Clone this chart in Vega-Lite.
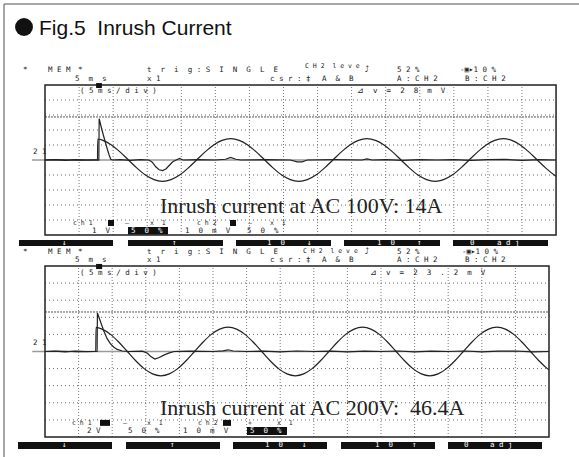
{
  "$schema": "https://vega.github.io/schema/vega-lite/v6.json",
  "width": 579,
  "height": 457,
  "autosize": {"type": "none"},
  "padding": 0,
  "background": "white",
  "config": {"view": {"stroke": null}},
  "resolve": {"scale": {"x": "independent", "y": "independent"}},
  "datasets": {
    "vgrid": [{"x":1,"y":-5,"y2":5},{"x":2,"y":-5,"y2":5},{"x":3,"y":-5,"y2":5},{"x":4,"y":-5,"y2":5},{"x":5,"y":-5,"y2":5},{"x":6,"y":-5,"y2":5},{"x":7,"y":-5,"y2":5},{"x":8,"y":-5,"y2":5},{"x":9,"y":-5,"y2":5},{"x":10,"y":-5,"y2":5},{"x":11,"y":-5,"y2":5},{"x":12,"y":-5,"y2":5},{"x":13,"y":-5,"y2":5},{"x":14,"y":-5,"y2":5}],
    "hgrid": [{"x":0,"x2":15,"y":-4},{"x":0,"x2":15,"y":-3},{"x":0,"x2":15,"y":-2},{"x":0,"x2":15,"y":-1},{"x":0,"x2":15,"y":1},{"x":0,"x2":15,"y":2},{"x":0,"x2":15,"y":3},{"x":0,"x2":15,"y":4}],
    "center": [{"x":-0.38,"x2":15,"y":0}],
    "frame": [{"x":0,"x2":15,"y":-5,"y2":5}],
    "border": [{"x":-1.203,"x2":-1.203,"y":-19.8,"y2":10.4},{"x":-1.203,"x2":15.6736,"y":10.4,"y2":10.4}],
    "cursor1": [{"x":0,"x2":15,"y":2.87}],
    "cursor2": [{"x":0,"x2":15,"y":2.31}],
    "v1": [{"x":0,"y":0},{"x":0.5,"y":0.01},{"x":1.0,"y":-0.01},{"x":1.54,"y":0},{"x":1.55,"y":1.4},{"x":1.7,"y":1.31},{"x":1.95,"y":1.0},{"x":2.2,"y":0.54},{"x":2.45,"y":0},{"x":2.7,"y":-0.54},{"x":2.95,"y":-1.0},{"x":3.2,"y":-1.31},{"x":3.45,"y":-1.42},{"x":3.7,"y":-1.31},{"x":3.95,"y":-1.0},{"x":4.2,"y":-0.54},{"x":4.45,"y":0},{"x":4.7,"y":0.54},{"x":4.95,"y":1.0},{"x":5.2,"y":1.31},{"x":5.45,"y":1.42},{"x":5.7,"y":1.31},{"x":5.95,"y":1.0},{"x":6.2,"y":0.54},{"x":6.45,"y":0},{"x":6.7,"y":-0.54},{"x":6.95,"y":-1.0},{"x":7.2,"y":-1.31},{"x":7.45,"y":-1.42},{"x":7.7,"y":-1.31},{"x":7.95,"y":-1.0},{"x":8.2,"y":-0.54},{"x":8.45,"y":0},{"x":8.7,"y":0.54},{"x":8.95,"y":1.0},{"x":9.2,"y":1.31},{"x":9.45,"y":1.42},{"x":9.7,"y":1.31},{"x":9.95,"y":1.0},{"x":10.2,"y":0.54},{"x":10.45,"y":0},{"x":10.7,"y":-0.54},{"x":10.95,"y":-1.0},{"x":11.2,"y":-1.31},{"x":11.45,"y":-1.42},{"x":11.7,"y":-1.31},{"x":11.95,"y":-1.0},{"x":12.2,"y":-0.54},{"x":12.45,"y":0},{"x":12.7,"y":0.54},{"x":12.95,"y":1.0},{"x":13.2,"y":1.31},{"x":13.45,"y":1.42},{"x":13.7,"y":1.31},{"x":13.95,"y":1.0},{"x":14.2,"y":0.54},{"x":14.45,"y":0},{"x":14.7,"y":-0.54},{"x":14.95,"y":-1.0},{"x":15.0,"y":-1.08}],
    "i1": [{"x":0,"y":0},{"x":0.3,"y":0.02},{"x":0.6,"y":-0.02},{"x":0.9,"y":0.02},{"x":1.2,"y":0},{"x":1.5,"y":0.01},{"x":1.58,"y":0},{"x":1.59,"y":2.75},{"x":1.65,"y":2.2},{"x":1.72,"y":1.6},{"x":1.8,"y":0.95},{"x":1.88,"y":0.35},{"x":1.93,"y":0.05},{"x":1.98,"y":0},{"x":2.2,"y":0.03},{"x":2.5,"y":-0.02},{"x":2.8,"y":0.02},{"x":3.05,"y":0},{"x":3.15,"y":-0.15},{"x":3.25,"y":-0.45},{"x":3.35,"y":-0.65},{"x":3.45,"y":-0.7},{"x":3.55,"y":-0.6},{"x":3.65,"y":-0.35},{"x":3.75,"y":-0.12},{"x":3.85,"y":0},{"x":3.95,"y":0.1},{"x":4.05,"y":0},{"x":4.5,"y":0.02},{"x":5.0,"y":0},{"x":5.3,"y":0.05},{"x":5.45,"y":0.17},{"x":5.6,"y":0.05},{"x":5.75,"y":0},{"x":6.5,"y":0.02},{"x":7.2,"y":0},{"x":7.4,"y":-0.12},{"x":7.55,"y":-0.12},{"x":7.7,"y":0},{"x":8.5,"y":0.02},{"x":9.3,"y":0},{"x":9.45,"y":0.08},{"x":9.6,"y":0},{"x":10,"y":0.02},{"x":10.5,"y":-0.02},{"x":11,"y":0.02},{"x":11.5,"y":0},{"x":12,"y":0.03},{"x":12.5,"y":-0.02},{"x":13,"y":0.02},{"x":13.5,"y":0.04},{"x":14,"y":-0.02},{"x":14.5,"y":0.02},{"x":15,"y":0}],
    "v2": [{"x":0,"y":0},{"x":0.5,"y":0.01},{"x":1.0,"y":-0.01},{"x":1.51,"y":0},{"x":1.52,"y":1.41},{"x":1.7,"y":1.31},{"x":1.95,"y":1.0},{"x":2.2,"y":0.54},{"x":2.45,"y":0},{"x":2.7,"y":-0.54},{"x":2.95,"y":-1.0},{"x":3.2,"y":-1.31},{"x":3.45,"y":-1.42},{"x":3.7,"y":-1.31},{"x":3.95,"y":-1.0},{"x":4.2,"y":-0.54},{"x":4.45,"y":0},{"x":4.7,"y":0.54},{"x":4.95,"y":1.0},{"x":5.2,"y":1.31},{"x":5.45,"y":1.42},{"x":5.7,"y":1.31},{"x":5.95,"y":1.0},{"x":6.2,"y":0.54},{"x":6.45,"y":0},{"x":6.7,"y":-0.54},{"x":6.95,"y":-1.0},{"x":7.2,"y":-1.31},{"x":7.45,"y":-1.42},{"x":7.7,"y":-1.31},{"x":7.95,"y":-1.0},{"x":8.2,"y":-0.54},{"x":8.45,"y":0},{"x":8.7,"y":0.54},{"x":8.95,"y":1.0},{"x":9.2,"y":1.31},{"x":9.45,"y":1.42},{"x":9.7,"y":1.31},{"x":9.95,"y":1.0},{"x":10.2,"y":0.54},{"x":10.45,"y":0},{"x":10.7,"y":-0.54},{"x":10.95,"y":-1.0},{"x":11.2,"y":-1.31},{"x":11.45,"y":-1.42},{"x":11.7,"y":-1.31},{"x":11.95,"y":-1.0},{"x":12.2,"y":-0.54},{"x":12.45,"y":0},{"x":12.7,"y":0.54},{"x":12.95,"y":1.0},{"x":13.2,"y":1.31},{"x":13.45,"y":1.42},{"x":13.7,"y":1.31},{"x":13.95,"y":1.0},{"x":14.2,"y":0.54},{"x":14.45,"y":0},{"x":14.7,"y":-0.54},{"x":14.95,"y":-1.0},{"x":15.0,"y":-1.08}],
    "i2": [{"x":0,"y":0},{"x":0.3,"y":0.02},{"x":0.6,"y":-0.02},{"x":0.9,"y":0.02},{"x":1.2,"y":0},{"x":1.55,"y":0},{"x":1.56,"y":2.25},{"x":1.65,"y":1.75},{"x":1.75,"y":1.2},{"x":1.85,"y":0.75},{"x":1.95,"y":0.45},{"x":2.05,"y":0.25},{"x":2.15,"y":0.12},{"x":2.3,"y":0.03},{"x":2.5,"y":0},{"x":2.9,"y":0.02},{"x":3.05,"y":-0.1},{"x":3.15,"y":-0.3},{"x":3.27,"y":-0.44},{"x":3.4,"y":-0.35},{"x":3.55,"y":-0.2},{"x":3.7,"y":-0.08},{"x":3.85,"y":0},{"x":4.3,"y":0.02},{"x":5.0,"y":0},{"x":5.3,"y":0.04},{"x":5.45,"y":0.1},{"x":5.6,"y":0.03},{"x":6.0,"y":0},{"x":6.5,"y":0.02},{"x":7.0,"y":-0.02},{"x":7.5,"y":0.03},{"x":8.0,"y":0},{"x":8.5,"y":0.02},{"x":9.0,"y":-0.02},{"x":9.5,"y":0.02},{"x":10,"y":0},{"x":10.5,"y":0.03},{"x":11,"y":-0.02},{"x":11.5,"y":0.02},{"x":12,"y":0},{"x":12.5,"y":0.03},{"x":13,"y":-0.02},{"x":13.5,"y":0.02},{"x":14,"y":0.03},{"x":14.5,"y":-0.02},{"x":15,"y":0}],
    "box1": [{"x":-0.763,"x2":1.996,"y":-5.333,"y2":-5.733},{"x":2.436,"x2":5.224,"y":-5.333,"y2":-5.733},{"x":5.606,"x2":8.394,"y":-5.333,"y2":-5.733},{"x":8.776,"x2":11.594,"y":-5.333,"y2":-5.733},{"x":11.975,"x2":14.764,"y":-5.333,"y2":-5.733},{"x":1.849,"x2":2.025,"y":-4.0,"y2":-4.4},{"x":5.43,"x2":5.606,"y":-4.0,"y2":-4.4},{"x":2.436,"x2":3.61,"y":-4.467,"y2":-4.967},{"x":1.5,"x2":1.67,"y":4.8,"y2":5.13}],
    "box2": [{"x":-0.804,"x2":1.994,"y":-5.292,"y2":-5.702},{"x":2.411,"x2":5.208,"y":-5.292,"y2":-5.702},{"x":5.595,"x2":8.393,"y":-5.292,"y2":-5.702},{"x":8.81,"x2":11.607,"y":-5.292,"y2":-5.702},{"x":11.994,"x2":14.792,"y":-5.292,"y2":-5.702},{"x":1.637,"x2":1.935,"y":-4.0,"y2":-4.35},{"x":5.298,"x2":5.536,"y":-4.0,"y2":-4.35},{"x":6.012,"x2":7.202,"y":-4.415,"y2":-4.883},{"x":1.52,"x2":1.7,"y":4.82,"y2":5.12}],
    "mono1": [{"x":-0.646,"y":5.967,"t":"*"},{"x":0.088,"y":5.967,"t":"M E M"},{"x":0.969,"y":5.967,"t":"*"},{"x":2.994,"y":5.967,"t":"t \u00a0r \u00a0i \u00a0g : S \u00a0I \u00a0N \u00a0G \u00a0L \u00a0E"},{"x":9.392,"y":5.967,"t":"⤴"},{"x":10.332,"y":5.967,"t":"5 2 %"},{"x":12.181,"y":5.967,"t":"-▣▸1 0 %"},{"x":0.881,"y":5.433,"t":"5 \u00a0m \u00a0s"},{"x":2.994,"y":5.433,"t":"x 1"},{"x":6.604,"y":5.433,"t":"c s r : ‡"},{"x":8.13,"y":5.433,"t":"A \u00a0& \u00a0B"},{"x":10.332,"y":5.433,"t":"A : C H 2"},{"x":12.328,"y":5.433,"t":"B : C H 2"},{"x":1.027,"y":4.6,"t":"( 5 m s / d i v )"},{"x":9.158,"y":4.6,"t":"⊿ \u00a0v \u00a0= \u00a02 \u00a08 \u00a0m \u00a0V"},{"x":-0.352,"y":0.533,"t":"2 1"},{"x":1.38,"y":-4.733,"t":"1 \u00a0V"},{"x":4.109,"y":-4.733,"t":"1 \u00a00 \u00a0m \u00a0V"},{"x":5.929,"y":-4.733,"t":"5 \u00a00 \u00a0%"}],
    "mono2": [{"x":-0.655,"y":5.79,"t":"*"},{"x":0.089,"y":5.79,"t":"M E M"},{"x":0.982,"y":5.79,"t":"*"},{"x":3.036,"y":5.79,"t":"t \u00a0r \u00a0i \u00a0g : S \u00a0I \u00a0N \u00a0G \u00a0L \u00a0E"},{"x":9.524,"y":5.79,"t":"⤴"},{"x":10.476,"y":5.79,"t":"5 2 %"},{"x":12.411,"y":5.79,"t":"-▣▸1 0 %"},{"x":0.893,"y":5.322,"t":"5 \u00a0m \u00a0s"},{"x":3.036,"y":5.322,"t":"x 1"},{"x":6.696,"y":5.322,"t":"c s r : ‡"},{"x":8.244,"y":5.322,"t":"A \u00a0& \u00a0B"},{"x":10.476,"y":5.322,"t":"A : C H 2"},{"x":12.5,"y":5.322,"t":"B : C H 2"},{"x":1.042,"y":4.591,"t":"( 5 m s / d i v )"},{"x":9.673,"y":4.591,"t":"⊿ \u00a0v \u00a0= \u00a02 \u00a03 \u00a0. \u00a02 \u00a0m \u00a0V"},{"x":-0.357,"y":0.497,"t":"2 1"},{"x":1.25,"y":-4.678,"t":"2 V"},{"x":2.47,"y":-4.678,"t":"5 \u00a00 \u00a0%"},{"x":4.107,"y":-4.678,"t":"1 \u00a00 \u00a0m \u00a0V"}],
    "small1": [{"x":7.631,"y":6.25,"t":"C H 2 \u00a0l e v e"},{"x":0.822,"y":-4.2,"t":"c h 1"},{"x":4.461,"y":-4.2,"t":"c h 2"},{"x":2.348,"y":-4.2,"t":"—"},{"x":3.082,"y":-4.2,"t":"x \u00a01"},{"x":5.958,"y":-4.2,"t":"—"},{"x":6.604,"y":-4.2,"t":"x \u00a01"}],
    "small2": [{"x":7.679,"y":5.877,"t":"C H 2 \u00a0l e v e"},{"x":0.804,"y":-4.181,"t":"c h 1"},{"x":4.554,"y":-4.181,"t":"c h 2"},{"x":2.321,"y":-4.181,"t":"—"},{"x":3.036,"y":-4.181,"t":"x \u00a01"},{"x":6.042,"y":-4.181,"t":"+"},{"x":6.905,"y":-4.181,"t":"x \u00a01"}],
    "white1": [{"x":2.524,"y":-4.717,"t":"5 \u00a00 \u00a0%"},{"x":0.499,"y":-5.533,"t":"↓"},{"x":3.728,"y":-5.533,"t":"↑"},{"x":6.516,"y":-5.533,"t":"1 \u00a00"},{"x":7.69,"y":-5.533,"t":"↓"},{"x":9.745,"y":-5.533,"t":"1 \u00a00"},{"x":10.919,"y":-5.533,"t":"↑"},{"x":12.474,"y":-5.533,"t":"0"},{"x":13.267,"y":-5.533,"t":"a d j"}],
    "white2": [{"x":6.101,"y":-4.649,"t":"5 \u00a00 \u00a0%"},{"x":0.505,"y":-5.497,"t":"↓"},{"x":3.72,"y":-5.497,"t":"↑"},{"x":6.548,"y":-5.497,"t":"1 \u00a00"},{"x":7.648,"y":-5.497,"t":"↓"},{"x":9.821,"y":-5.497,"t":"1 \u00a00"},{"x":10.922,"y":-5.497,"t":"↑"},{"x":12.47,"y":-5.497,"t":"0"},{"x":13.244,"y":-5.497,"t":"a d j"}],
    "big1": [{"x":3.375,"y":-3.533,"t":"Inrush current at AC 100V: 14A"}],
    "big2": [{"x":3.423,"y":-3.69,"t":"Inrush current at AC 200V: \u00a046.4A"}],
    "title": [{"x":-0.176,"y":8.333,"t":"Fig.5 \u00a0Inrush Current"}],
    "dot": [{"x":-0.616,"y":8.867}]
  },
  "layer": [
    {
      "encoding": {
        "x": {"field": "x", "type": "quantitative", "axis": null, "scale": {"domain": [-1.3208, 15.6736], "nice": false, "zero": false}},
        "y": {"field": "y", "type": "quantitative", "axis": null, "scale": {"domain": [-19.8, 10.6667], "nice": false, "zero": false}}
      },
      "layer": [
        {"data": {"name": "border"}, "mark": {"type": "rule", "color": "#8a8a8a", "strokeWidth": 1.5}, "encoding": {"x2": {"field": "x2"}, "y2": {"field": "y2"}}},
        {"data": {"name": "hgrid"}, "mark": {"type": "rule", "color": "#666", "strokeWidth": 1, "strokeDash": [1, 3]}, "encoding": {"x2": {"field": "x2"}}},
        {"data": {"name": "vgrid"}, "mark": {"type": "rule", "color": "#777", "strokeWidth": 1, "strokeDash": [1, 2]}, "encoding": {"y2": {"field": "y2"}}},
        {"data": {"name": "center"}, "mark": {"type": "rule", "color": "#9a9a9a", "strokeWidth": 1.5}, "encoding": {"x2": {"field": "x2"}}},
        {"data": {"name": "cursor1"}, "mark": {"type": "rule", "color": "#555", "strokeWidth": 1, "strokeDash": [2, 1]}, "encoding": {"x2": {"field": "x2"}}},
        {"data": {"name": "frame"}, "mark": {"type": "rect", "filled": false, "stroke": "#222", "strokeWidth": 1.5}, "encoding": {"x2": {"field": "x2"}, "y2": {"field": "y2"}}},
        {"data": {"name": "box1"}, "mark": {"type": "rect", "color": "#111"}, "encoding": {"x2": {"field": "x2"}, "y2": {"field": "y2"}}},
        {"data": {"name": "v1"}, "mark": {"type": "line", "color": "#222", "strokeWidth": 1.2, "interpolate": "monotone"}, "encoding": {}},
        {"data": {"name": "i1"}, "mark": {"type": "line", "color": "#222", "strokeWidth": 1.2}, "encoding": {}},
        {"data": {"name": "mono1"}, "mark": {"type": "text", "font": "DejaVu Sans Mono", "fontSize": 7.5, "align": "left", "baseline": "middle", "color": "#222"}, "encoding": {"text": {"field": "t"}}},
        {"data": {"name": "small1"}, "mark": {"type": "text", "font": "DejaVu Sans Mono", "fontSize": 6.5, "align": "left", "baseline": "middle", "color": "#222"}, "encoding": {"text": {"field": "t"}}},
        {"data": {"name": "white1"}, "mark": {"type": "text", "font": "DejaVu Sans Mono", "fontSize": 7.5, "align": "left", "baseline": "middle", "color": "white"}, "encoding": {"text": {"field": "t"}}},
        {"data": {"name": "big1"}, "mark": {"type": "text", "font": "Liberation Serif", "fontSize": 22, "align": "left", "baseline": "alphabetic", "color": "#222"}, "encoding": {"text": {"field": "t"}}},
        {"data": {"name": "title"}, "mark": {"type": "text", "font": "Liberation Sans", "fontSize": 21, "align": "left", "baseline": "alphabetic", "color": "#111"}, "encoding": {"text": {"field": "t"}}},
        {"data": {"name": "dot"}, "mark": {"type": "point", "shape": "circle", "filled": true, "size": 320, "color": "#111", "opacity": 1}}
      ]
    },
    {
      "encoding": {
        "x": {"field": "x", "type": "quantitative", "axis": null, "scale": {"domain": [-1.3393, 15.8929], "nice": false, "zero": false}},
        "y": {"field": "y", "type": "quantitative", "axis": null, "scale": {"domain": [-6.1696, 20.5556], "nice": false, "zero": false}}
      },
      "layer": [
        {"data": {"name": "hgrid"}, "mark": {"type": "rule", "color": "#666", "strokeWidth": 1, "strokeDash": [1, 3]}, "encoding": {"x2": {"field": "x2"}}},
        {"data": {"name": "vgrid"}, "mark": {"type": "rule", "color": "#777", "strokeWidth": 1, "strokeDash": [1, 2]}, "encoding": {"y2": {"field": "y2"}}},
        {"data": {"name": "center"}, "mark": {"type": "rule", "color": "#9a9a9a", "strokeWidth": 1.5}, "encoding": {"x2": {"field": "x2"}}},
        {"data": {"name": "cursor2"}, "mark": {"type": "rule", "color": "#555", "strokeWidth": 1, "strokeDash": [2, 1]}, "encoding": {"x2": {"field": "x2"}}},
        {"data": {"name": "frame"}, "mark": {"type": "rect", "filled": false, "stroke": "#222", "strokeWidth": 1.5}, "encoding": {"x2": {"field": "x2"}, "y2": {"field": "y2"}}},
        {"data": {"name": "box2"}, "mark": {"type": "rect", "color": "#111"}, "encoding": {"x2": {"field": "x2"}, "y2": {"field": "y2"}}},
        {"data": {"name": "v2"}, "mark": {"type": "line", "color": "#222", "strokeWidth": 1.2, "interpolate": "monotone"}, "encoding": {}},
        {"data": {"name": "i2"}, "mark": {"type": "line", "color": "#222", "strokeWidth": 1.2}, "encoding": {}},
        {"data": {"name": "mono2"}, "mark": {"type": "text", "font": "DejaVu Sans Mono", "fontSize": 7.5, "align": "left", "baseline": "middle", "color": "#222"}, "encoding": {"text": {"field": "t"}}},
        {"data": {"name": "small2"}, "mark": {"type": "text", "font": "DejaVu Sans Mono", "fontSize": 6.5, "align": "left", "baseline": "middle", "color": "#222"}, "encoding": {"text": {"field": "t"}}},
        {"data": {"name": "white2"}, "mark": {"type": "text", "font": "DejaVu Sans Mono", "fontSize": 7.5, "align": "left", "baseline": "middle", "color": "white"}, "encoding": {"text": {"field": "t"}}},
        {"data": {"name": "big2"}, "mark": {"type": "text", "font": "Liberation Serif", "fontSize": 22, "align": "left", "baseline": "alphabetic", "color": "#222"}, "encoding": {"text": {"field": "t"}}}
      ]
    }
  ]
}
